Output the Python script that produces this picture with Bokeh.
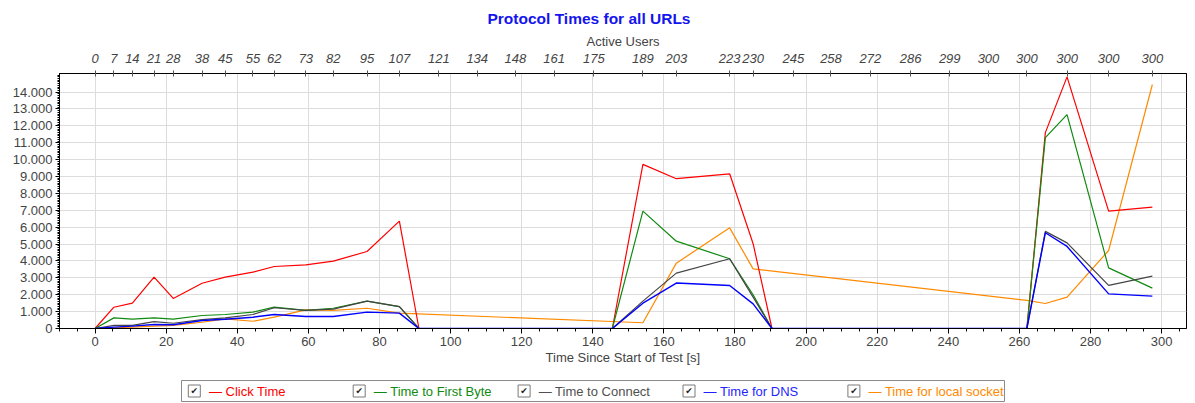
from bokeh.plotting import figure
from bokeh.models import (Range1d, LinearAxis, FixedTicker, SingleIntervalTicker,
                          CustomJSTickFormatter)
from bokeh.layouts import column
from bokeh.embed import file_html
from bokeh.resources import INLINE
from bokeh.core.properties import value

# ---------------- data ----------------
t = [0, 5.3, 10.5, 16.6, 22.0, 30.1, 36.6, 44.4, 50.4, 59.3, 67.0, 76.5, 85.6,
     91.1, 96.7, 107.5, 118.2, 129.1, 140.3, 145.5,
     154.1, 163.5, 178.5, 185.1,
     190.4, 196.4, 207.0, 218.1, 229.4, 240.4, 251.3, 262.1,
     267.3, 273.4, 285.1, 297.4]

click_time = [0, 1260, 1500, 3040, 1780, 2680, 3040, 3340, 3670, 3770, 3990, 4560, 6360,
              0, 0, 0, 0, 0, 0, 0,
              9720, 8870, 9160, 5020,
              0, 0, 0, 0, 0, 0, 0, 0,
              11600, 14900, 6950, 7190]

first_byte = [0, 630, 550, 630, 550, 770, 830, 970, 1270, 1070, 1200, 1620, 1300,
              0, 0, 0, 0, 0, 0, 0,
              6950, 5170, 4130, 2000,
              0, 0, 0, 0, 0, 0, 0, 0,
              11300, 12660, 3590, 2390]

connect = [0, 180, 180, 410, 310, 530, 630, 830, 1230, 1070, 1150, 1620, 1300,
           0, 0, 0, 0, 0, 0, 0,
           1620, 3280, 4130, 1860,
           0, 0, 0, 0, 0, 0, 0, 0,
           5750, 5070, 2550, 3100]

dns = [0, 80, 140, 240, 220, 470, 550, 670, 830, 710, 710, 970, 910,
       0, 0, 0, 0, 0, 0, 0,
       1500, 2690, 2550, 1460,
       0, 0, 0, 0, 0, 0, 0, 0,
       5670, 4860, 2050, 1920]

t_socket = [0, 5.3, 10.5, 16.6, 22.0, 30.1, 36.6, 44.4, 50.4, 59.3, 67.0, 76.5, 85.6,
            154.1, 163.5, 178.5, 185.1, 262.1, 267.3, 273.4, 285.1, 297.4]
local_socket = [0, 40, 80, 140, 180, 370, 570, 430, 670, 1100, 1070, 1200, 910,
                340, 3870, 5960, 3530, 1660, 1480, 1860, 4620, 14450]

user_ticks = [0, 5.3, 10.5, 16.6, 22.0, 30.1, 36.6, 44.4, 50.4, 59.3, 67.0, 76.5, 85.6,
              96.7, 107.5, 118.2, 129.1, 140.3, 154.1, 163.5, 178.5, 185.1, 196.4,
              207.0, 218.1, 229.4, 240.4, 251.3, 262.1, 273.4, 285.1, 297.4]
user_labels = ["0", "7", "14", "21", "28", "38", "45", "55", "62", "73", "82", "95", "107",
               "121", "134", "148", "161", "175", "189", "203", "223", "230", "245",
               "258", "272", "286", "299", "300", "300", "300", "300", "300"]

y_ticks = list(range(0, 15000, 1000))
y_minor = list(range(0, 15100, 100))

series_names = ["Click Time", "Time to First Byte", "Time to Connect", "Time for DNS",
                "Time for local socket"]
series_colors = ["#ff0000", "#108a10", "#454545", "#0000ff", "#ff8a00"]
legend_text_colors = ["#ff0000", "#108a10", "#505050", "#1f1fff", "#ff8a00"]

FONT = "Liberation Sans"

# ---------------- main chart ----------------
p = figure(width=1195, height=370, x_range=Range1d(-10, 307), y_range=Range1d(0, 15100),
           output_backend="svg", toolbar_location=None,
           min_border_left=59, min_border_right=9, min_border_top=73, min_border_bottom=42,
           title="Protocol Times for all URLs")
p.background_fill_color = "white"
p.border_fill_color = "white"
p.outline_line_color = "black"
p.outline_line_alpha = 1.0

p.title.align = "left"
p.title.offset = 428
p.title.text_color = "#1414ee"
p.title.text_font = FONT
p.title.text_font_size = "15.5px"
p.title.text_font_style = "bold"
p.title.standoff = 8

xa = p.xaxis[0]
xa.ticker = SingleIntervalTicker(interval=20, num_minor_ticks=4)
xa.axis_label = "Time Since Start of Test [s]"
xa.axis_label_text_font_style = "normal"
xa.axis_label_text_font = FONT
xa.axis_label_text_font_size = "13px"
xa.axis_label_standoff = 1
xa.major_label_text_font = FONT
xa.major_label_text_font_size = "13px"
xa.major_label_standoff = 3
xa.major_tick_out = 5
xa.major_tick_in = 0
xa.minor_tick_out = 3
xa.minor_tick_in = 0
xa.axis_line_color = "black"

yt = FixedTicker(ticks=y_ticks, minor_ticks=y_minor)
ya = p.yaxis[0]
ya.ticker = yt
ya.formatter = CustomJSTickFormatter(code="""
const v = Math.round(tick);
if (v === 0) return "0";
const th = Math.floor(v / 1000);
const r = v % 1000;
return th + "." + String(r).padStart(3, "0");
""")
ya.major_label_text_font = FONT
ya.major_label_text_font_size = "13px"
ya.major_label_standoff = 3
ya.major_tick_out = 4
ya.major_tick_in = 0
ya.minor_tick_out = 2
ya.minor_tick_in = 0
ya.axis_line_color = "black"

p.xgrid.grid_line_color = "#dcdcdc"
p.ygrid.grid_line_color = "#dcdcdc"
p.ygrid.ticker = yt

top = LinearAxis(
    ticker=FixedTicker(ticks=user_ticks),
    formatter=CustomJSTickFormatter(args=dict(times=user_ticks, labels=user_labels), code="""
let best = 0, bd = 1e9;
for (let i = 0; i < times.length; i++) {
  const d = Math.abs(times[i] - tick);
  if (d < bd) { bd = d; best = i; }
}
return labels[best];
"""),
    axis_label="Active Users",
)
top.axis_label_text_font_style = "normal"
top.axis_label_text_font = FONT
top.axis_label_text_font_size = "13px"
top.axis_label_standoff = 2
top.major_label_text_font = FONT
top.major_label_text_font_size = "13px"
top.major_label_text_font_style = "italic"
top.major_label_standoff = 8
top.major_tick_out = 3
top.major_tick_in = 3
top.minor_tick_out = 0
top.minor_tick_in = 0
top.major_tick_line_color = "#555555"
top.axis_line_color = "black"
p.add_layout(top, "above")

p.line(t_socket, local_socket, line_color=series_colors[4], line_width=1.2)
p.line(t, click_time, line_color=series_colors[0], line_width=1.2)
p.line(t, first_byte, line_color=series_colors[1], line_width=1.2)
p.line(t, connect, line_color=series_colors[2], line_width=1.2)
p.line(t, dns, line_color=series_colors[3], line_width=1.4)

# ---------------- legend strip (frame aligned with the chart frame) ----------------
lg = figure(width=1195, height=33, x_range=Range1d(59, 1186), y_range=Range1d(0, 33),
            output_backend="svg", toolbar_location=None,
            min_border_left=59, min_border_right=9, min_border_top=0, min_border_bottom=0,
            x_axis_location=None, y_axis_location=None)
lg.outline_line_color = None
lg.grid.visible = False
lg.background_fill_color = "white"
lg.border_fill_color = "white"

lg.quad(left=181, right=1004, bottom=2, top=23, fill_color="white", line_color="#8a8a8a",
        line_width=1)

step = 164.9
box_x = [193.8 + i * step for i in range(len(series_names))]
lg.rect(x=box_x, y=[12.5] * 5, width=12, height=12, fill_color="white",
        line_color="#7a7a7a", line_width=1)
lg.text(x=box_x, y=[12.5] * 5, text=["\u2714"] * 5, text_font=value("DejaVu Sans"),
        text_font_size="9px", text_align="center", text_baseline="middle",
        text_color="#222222")
lg.text(x=[bx + 14.6 for bx in box_x], y=[12.5] * 5,
        text=["\u2014 " + n for n in series_names],
        text_color=legend_text_colors, text_font=value(FONT), text_font_size="13px",
        text_align="left", text_baseline="middle")

layout = column(p, lg, spacing=0)
open("out.html", "w").write(file_html(layout, INLINE))
